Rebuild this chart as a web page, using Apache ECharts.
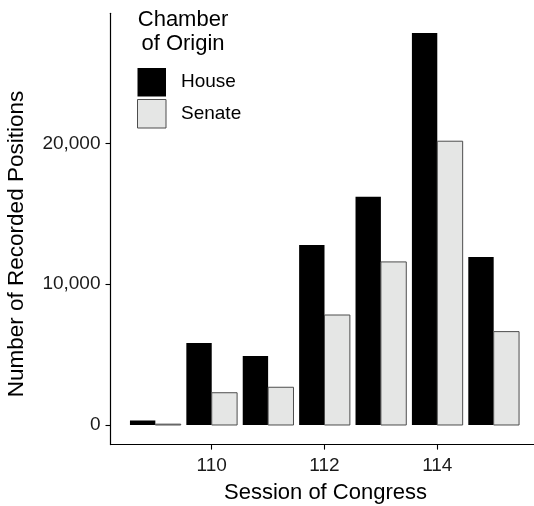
<!DOCTYPE html>
<html>
<head>
<meta charset="utf-8">
<style>
  html, body { margin: 0; padding: 0; background: #fff; }
  #chart { width: 534px; height: 506px; }
</style>
<script src="https://cdn.jsdelivr.net/npm/echarts@6/dist/echarts.min.js"></script>
</head>
<body>
<div id="chart"></div>
<script>
// Recorded positions per session of Congress, by chamber where the bill started
const sessions = [109, 110, 111, 112, 113, 114, 115];
const houseCounts = [320, 5820, 4900, 12780, 16210, 27840, 11930];
const senateCounts = [60, 2290, 2680, 7810, 11580, 20150, 6630];
const yTicks = [0, 10000, 20000];
const xTicks = [110, 112, 114];

const FONT = '"Liberation Sans", Arial, Helvetica, sans-serif';
const HOUSE_FILL = '#000000';
const SENATE_FILL = '#e5e6e5';
const SENATE_EDGE = '#4d4d4d';
const HALF = 0.45; // each bar covers half of a 0.9-wide dodge group

function pairs(values) {
  return sessions.map((s, i) => [s, values[i]]);
}

// side = -1 puts the bar left of the session tick, +1 right of it
function dodgedBar(side, fill, stroke, lineWidth) {
  return function (params, api) {
    const x = api.value(0);
    const y = api.value(1);
    const x0 = side < 0 ? x - HALF : x;
    const x1 = side < 0 ? x : x + HALF;
    const topLeft = api.coord([x0, y]);
    const bottomRight = api.coord([x1, 0]);
    return {
      type: 'rect',
      shape: {
        x: topLeft[0],
        y: topLeft[1],
        width: bottomRight[0] - topLeft[0],
        height: bottomRight[1] - topLeft[1]
      },
      style: { fill: fill, stroke: stroke, lineWidth: lineWidth }
    };
  };
}

const chart = echarts.init(document.getElementById('chart'), null, { renderer: 'canvas' });

chart.setOption({
  animation: false,
  backgroundColor: '#ffffff',
  textStyle: { fontFamily: FONT },
  grid: { left: 110.5, right: 0, top: 13.3, bottom: 61.4, containLabel: false },
  xAxis: {
    type: 'value',
    min: 108.205,
    max: 115.715,
    splitLine: { show: false },
    axisLine: { show: true, onZero: false, lineStyle: { color: '#000', width: 1.2 } },
    axisTick: { show: true, length: 5, customValues: xTicks, lineStyle: { color: '#000', width: 1.1 } },
    axisLabel: {
      customValues: xTicks,
      margin: 12,
      fontSize: 19,
      color: '#1a1a1a',
      fontFamily: FONT
    }
  },
  yAxis: {
    type: 'value',
    min: -1392,
    max: 29233,
    splitLine: { show: false },
    axisLine: { show: true, onZero: false, lineStyle: { color: '#000', width: 1.2 } },
    axisTick: { show: true, length: 5, customValues: yTicks, lineStyle: { color: '#000', width: 1.1 } },
    axisLabel: {
      customValues: yTicks,
      margin: 10,
      fontSize: 19,
      color: '#1a1a1a',
      fontFamily: FONT,
      formatter: function (v) { return v.toLocaleString('en-US'); }
    }
  },
  legend: {
    orient: 'vertical',
    left: 137,
    top: 68,
    padding: 0,
    itemWidth: 28.5,
    itemHeight: 28.5,
    itemGap: 2.5,
    selectedMode: false,
    textStyle: { fontSize: 19, color: '#000', fontFamily: FONT, padding: [0, 0, 0, 10] },
    data: [
      { name: 'House', icon: 'rect', itemStyle: { color: HOUSE_FILL, borderWidth: 0 } },
      { name: 'Senate', icon: 'rect', itemStyle: { color: SENATE_FILL, borderColor: SENATE_EDGE, borderWidth: 1 } }
    ]
  },
  graphic: [
    {
      type: 'text',
      x: 183, y: 32,
      style: {
        text: 'Chamber\nof Origin',
        align: 'center',
        verticalAlign: 'middle',
        lineHeight: 24,
        font: '22px ' + FONT,
        fill: '#000'
      }
    },
    {
      type: 'text',
      x: 325.5, y: 493,
      style: {
        text: 'Session of Congress',
        align: 'center',
        verticalAlign: 'middle',
        font: '22px ' + FONT,
        fill: '#000'
      }
    },
    {
      type: 'text',
      x: 17, y: 244,
      rotation: Math.PI / 2,
      style: {
        text: 'Number of Recorded Positions',
        align: 'center',
        verticalAlign: 'middle',
        font: '22.5px ' + FONT,
        fill: '#000'
      }
    }
  ],
  series: [
    {
      name: 'House',
      type: 'custom',
      itemStyle: { color: HOUSE_FILL },
      renderItem: dodgedBar(-1, HOUSE_FILL, null, 0),
      encode: { x: 0, y: 1 },
      data: pairs(houseCounts)
    },
    {
      name: 'Senate',
      type: 'custom',
      itemStyle: { color: SENATE_FILL },
      renderItem: dodgedBar(1, SENATE_FILL, SENATE_EDGE, 1),
      encode: { x: 0, y: 1 },
      data: pairs(senateCounts)
    }
  ]
});
</script>
</body>
</html>
